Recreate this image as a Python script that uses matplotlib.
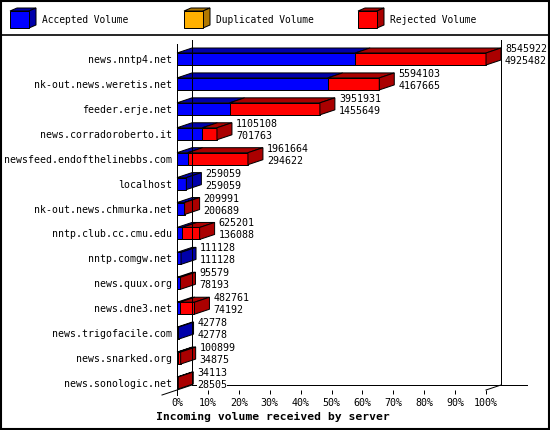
import numpy as np
import matplotlib
matplotlib.use("Agg")
import matplotlib.pyplot as plt
from matplotlib.patches import Polygon, Rectangle

# data
hosts = ["news.nntp4.net", "nk-out.news.weretis.net", "feeder.erje.net",
         "news.corradoroberto.it", "newsfeed.endofthelinebbs.com", "localhost",
         "nk-out.news.chmurka.net", "nntp.club.cc.cmu.edu", "nntp.comgw.net",
         "news.quux.org", "news.dne3.net", "news.trigofacile.com",
         "news.snarked.org", "news.sonologic.net"]
total = [8545922, 5594103, 3951931, 1105108, 1961664, 259059, 209991,
         625201, 111128, 95579, 482761, 42778, 100899, 34113]
accepted = [4925482, 4167665, 1455649, 701763, 294622, 259059, 200689,
            136088, 111128, 78193, 74192, 42778, 34875, 28505]
legend_names = ["Accepted Volume", "Duplicated Volume", "Rejected Volume"]
pct_labels = ["%d%%" % p for p in range(0, 101, 10)]

W, H = 550, 430
BLUE, DBLUE = "#0000ff", "#0000aa"
YEL, DYEL = "#ffb000", "#b07800"
RED, DRED = "#ff0000", "#aa0000"
LW = 0.72
MONO = "DejaVu Sans Mono"

fig = plt.figure(figsize=(W / 100, H / 100), dpi=100)

# pixel overlay for frame and legend
bg = fig.add_axes([0, 0, 1, 1])
bg.set_xlim(0, W)
bg.set_ylim(H, 0)
bg.axis("off")
bg.add_patch(Rectangle((0.5, 0.5), W - 1.5, H - 1.5, fill=False, ec="black", lw=1.5))
bg.plot([0, W], [35, 35], color="black", lw=1.2)


def cube(ax, x, y, w, h, dx, dy, c1, c2):
    ax.add_patch(Polygon([(x, y), (x + dx, y - dy), (x + w + dx, y - dy), (x + w, y)],
                         fc=c2, ec="black", lw=LW))
    ax.add_patch(Polygon([(x + w, y), (x + w + dx, y - dy), (x + w + dx, y + h - dy), (x + w, y + h)],
                         fc=c2, ec="black", lw=LW))
    ax.add_patch(Rectangle((x, y), w, h, fc=c1, ec="black", lw=LW))


for i, (name, c1, c2) in enumerate(zip(legend_names, [BLUE, YEL, RED], [DBLUE, DYEL, DRED])):
    x0 = 10 + i * 174
    cube(bg, x0, 11, 19, 17, 7, 3, c1, c2)
    bg.text(x0 + 32, 20, name, family=MONO, fontsize=6.9, va="center", ha="left")

# main chart axes (front plane)
px0, px1, py0, py1 = 177, 486, 44, 390
ax = fig.add_axes([px0 / W, 1 - py1 / H, (px1 - px0) / W, (py1 - py0) / H])
ax.patch.set_alpha(0)
for s in ax.spines.values():
    s.set_visible(False)

xmax = max(total)
ytop, ybot = -0.602, 13.281
ax.set_xlim(0, xmax)
ax.set_ylim(ybot, ytop)
xpp = xmax / (px1 - px0)            # data per pixel in x
ypp = (ybot - ytop) / (py1 - py0)   # data per pixel in y
dx, dy = 15 * xpp, 5 * ypp
bh = 12 * ypp

rows = np.arange(len(hosts))
ax.set_yticks(rows, hosts, family=MONO, fontsize=7.15)
ax.tick_params(axis="y", length=0, pad=3.6)
ax.set_xticks(np.linspace(0, xmax, 11), pct_labels, family=MONO, fontsize=7.2)
ax.tick_params(axis="x", length=3, width=LW, pad=2.5, direction="out")

# walls and floor
kw = dict(color="black", lw=LW, clip_on=False)
ax.plot([0, 0], [ytop, ybot + 5 * ypp], **kw)
ax.plot([dx, dx], [ytop - 4 * ypp, ybot - dy], **kw)
ax.plot([xmax + dx, xmax + dx], [ytop - 4 * ypp, ybot - dy], **kw)
ax.plot([dx, xmax + 41 * xpp], [ybot - dy, ybot - dy], **kw)
ax.plot([-15 * xpp, dx], [ybot + dy, ybot - dy], **kw)
ax.plot([xmax, xmax + dx], [ybot, ybot - dy], **kw)


def seg(a, b, y, c1, c2, side):
    yt, yb = y - bh / 2, y + bh / 2
    ax.add_patch(Rectangle((a, yt), b - a, bh, fc=c1, ec="black", lw=LW, clip_on=False))
    ax.add_patch(Polygon([(a, yt), (a + dx, yt - dy), (b + dx, yt - dy), (b, yt)],
                         fc=c2, ec="black", lw=LW, clip_on=False))
    if side:
        ax.add_patch(Polygon([(b, yt), (b + dx, yt - dy), (b + dx, yb - dy), (b, yb)],
                             fc=c2, ec="black", lw=LW, clip_on=False))


for r, t, a in zip(rows, total, accepted):
    seg(0, a, r, BLUE, DBLUE, a == t)
    if t > a:
        seg(a, t, r, RED, DRED, True)
    tx = t + dx + 4 * xpp
    ax.text(tx, r - 10 * ypp, str(t), family=MONO, fontsize=7.2, va="center", ha="left",
            clip_on=False, bbox=dict(fc="white", ec="none", pad=0))
    ax.text(tx, r + 2 * ypp, str(a), family=MONO, fontsize=7.2, va="center", ha="left",
            clip_on=False, bbox=dict(fc="white", ec="none", pad=0))

fig.text(156 / W, 1 - 417 / H, "Incoming volume received by server", family=MONO,
         fontsize=8.2, weight="bold", va="center", ha="left")

fig.savefig("out.png", dpi=100)
